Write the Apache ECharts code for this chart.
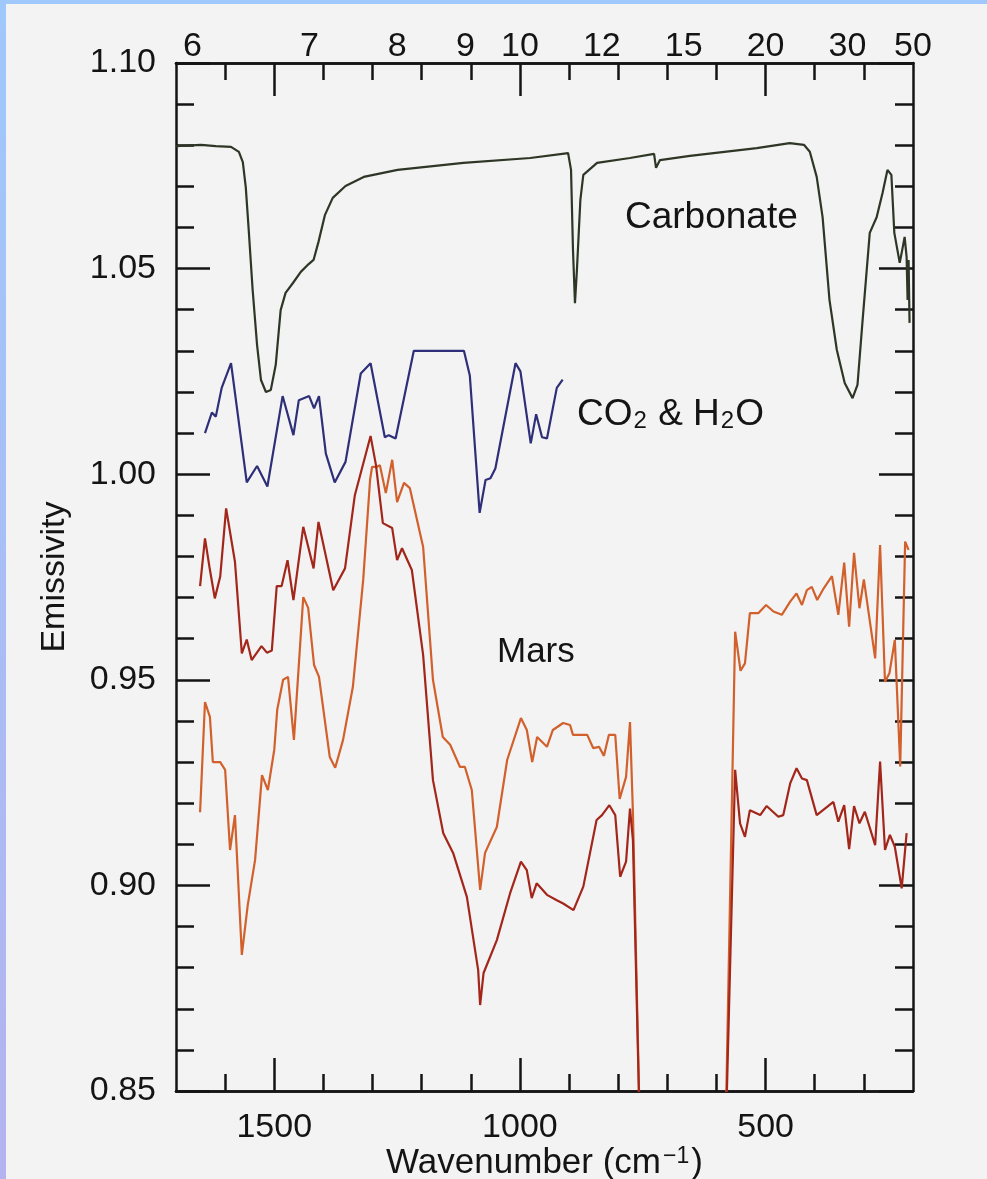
<!DOCTYPE html>
<html>
<head>
<meta charset="utf-8">
<script src="https://cdn.jsdelivr.net/npm/echarts@6/dist/echarts.min.js"></script>
<style>
  html, body { margin: 0; padding: 0; }
  #chart {
    width: 987px; height: 1179px;
    background:
      linear-gradient(#9fc8fc, #9fc8fc) 0 0 / 100% 4px no-repeat,
      linear-gradient(#9fc8fc, #b3b3ef) 0 0 / 6px 100% no-repeat,
      #f3f3f3;
  }
</style>
</head>
<body>
<div id="chart"></div>
<script>
// Emissivity spectra, [wavenumber (cm^-1), emissivity]
const carbonate = [
  [1700,1.0798],[1649,1.0801],[1619,1.0798],[1588,1.0796],[1572,1.0784],[1564,1.0759],[1558,1.0698],
  [1552,1.0594],[1544,1.0448],[1535,1.0314],[1527,1.0229],[1517,1.0200],[1507,1.0205],[1497,1.0266],
  [1487,1.0399],[1477,1.0441],[1462,1.0465],[1446,1.0492],[1430,1.0511],[1420,1.0521],[1410,1.0565],
  [1397,1.0630],[1381,1.0672],[1355,1.0701],[1318,1.0723],[1249,1.0740],[1115,1.0757],[979,1.0769],
  [902,1.0781],[896,1.0740],[892,1.0545],[888,1.0416],[884,1.0497],[877,1.0667],[871,1.0728],
  [843,1.0757],[776,1.0769],[727,1.0779],[723,1.0745],[715,1.0764],[654,1.0774],[518,1.0793],
  [451,1.0805],[422,1.0801],[410,1.0784],[396,1.0723],[384,1.0625],[370,1.0424],[355,1.0302],
  [339,1.0222],[323,1.0185],[313,1.0217],[303,1.0368],[288,1.0587],[274,1.0625],[262,1.0684],
  [252,1.0740],[244,1.0728],[238,1.0587],[227,1.0514],[222,1.0545],[217,1.0577],[213,1.0528],
  [211,1.0424],[209,1.0521],[207,1.0368]
];

const gasAbsorption = [
  [1641,1.010],[1627,1.015],[1619,1.014],[1607,1.021],[1588,1.027],[1556,0.998],[1535,1.002],
  [1514,0.997],[1483,1.019],[1461,1.0095],[1450,1.018],[1429,1.019],[1419,1.016],[1409,1.019],
  [1395,1.005],[1377,0.998],[1355,1.003],[1324,1.0245],[1304,1.027],[1275,1.009],[1267,1.0095],
  [1253,1.0087],[1216,1.030],[1114,1.030],[1102,1.024],[1082,0.9906],[1070,0.9986],[1060,0.999],
  [1050,1.0014],[1009,1.027],[999,1.025],[978,1.0075],[967,1.0146],[955,1.009],[945,1.0087],
  [925,1.021],[913,1.023]
];

const marsUpper = [
  [1651,0.9728],[1641,0.9844],[1632,0.9775],[1621,0.9698],[1610,0.9751],[1598,0.9917],[1580,0.9787],
  [1566,0.9564],[1556,0.9598],[1546,0.9548],[1526,0.9582],[1515,0.9566],[1505,0.9571],[1495,0.9728],
  [1485,0.9728],[1473,0.9791],[1461,0.9694],[1441,0.9872],[1420,0.9771],[1410,0.9884],[1380,0.9718],
  [1356,0.9771],[1336,0.9949],[1304,1.0093],[1293,1.0022],[1279,0.9881],[1260,0.9869],[1250,0.9791],
  [1240,0.9820],[1220,0.9767],[1197,0.9560],[1177,0.9256],[1156,0.9127],[1136,0.9079],[1108,0.8972],
  [1085,0.8794],[1081,0.8709],[1074,0.8787],[1047,0.8867],[1020,0.8981],[998,0.9058],[986,0.9037],
  [976,0.8969],[966,0.9005],[945,0.8977],[925,0.8964],[912,0.8956],[891,0.8940],[871,0.8997],
  [844,0.9159],[833,0.9171],[818,0.9195],[806,0.9171],[796,0.9021],[784,0.9058],[776,0.9187],
  [770,0.911],[754,0.83],[583,0.83],[562,0.9281],[552,0.9151],[542,0.9118],[532,0.9183],
  [511,0.9171],[498,0.9193],[474,0.9167],[464,0.9171],[450,0.9248],[437,0.9285],[426,0.926],
  [416,0.9256],[396,0.9171],[362,0.9203],[352,0.9155],[340,0.9195],[330,0.9088],[320,0.9193],
  [309,0.9151],[298,0.9179],[277,0.9098],[267,0.9301],[257,0.9086],[247,0.9123],[237,0.9094],
  [223,0.8993],[213,0.9127]
];

const marsLower = [
  [1651,0.9178],[1641,0.9446],[1631,0.9410],[1625,0.9300],[1610,0.9300],[1600,0.9281],[1590,0.9086],
  [1580,0.9171],[1566,0.8831],[1554,0.8952],[1539,0.9062],[1525,0.9268],[1513,0.9232],[1500,0.9330],
  [1494,0.9427],[1482,0.9500],[1472,0.9507],[1460,0.9354],[1441,0.9701],[1431,0.9675],[1419,0.9536],
  [1409,0.9507],[1387,0.9312],[1376,0.9286],[1360,0.9354],[1340,0.9483],[1319,0.9743],[1305,0.9986],
  [1301,1.0018],[1291,1.0018],[1285,1.0022],[1273,0.9954],[1260,1.0035],[1250,0.9932],[1236,0.9979],
  [1224,0.9966],[1197,0.9823],[1177,0.9500],[1157,0.9361],[1142,0.9342],[1122,0.9288],[1112,0.9288],
  [1098,0.9232],[1081,0.8989],[1071,0.9079],[1047,0.9142],[1026,0.9305],[998,0.9407],[986,0.9378],
  [975,0.9300],[965,0.9361],[945,0.9337],[933,0.9378],[912,0.9395],[898,0.9390],[892,0.9366],
  [863,0.9366],[851,0.9334],[839,0.9337],[829,0.9315],[819,0.9366],[806,0.9366],[797,0.9210],
  [784,0.9264],[776,0.9397],[770,0.9176],[754,0.83],[583,0.83],[562,0.9617],[551,0.9522],
  [542,0.9540],[532,0.9662],[515,0.9662],[499,0.9682],[484,0.9666],[467,0.9658],[450,0.9690],
  [437,0.9710],[426,0.9682],[416,0.9718],[406,0.9726],[395,0.9694],[382,0.9722],[365,0.9752],
  [352,0.9658],[340,0.9785],[330,0.9629],[320,0.9809],[309,0.9674],[300,0.9744],[277,0.9552],
  [267,0.9828],[257,0.9495],[248,0.9516],[237,0.9597],[226,0.9289],[216,0.9836],[209,0.9816]
];

// Axis ticks and labels
const wnLabels = [500, 1000, 1500];
const wnMinorTicks = [300, 400, 600, 700, 800, 900, 1100, 1200, 1300, 1400, 1600];
const micronLabels = [6, 7, 8, 9, 10, 12, 15, 20, 30, 50];

const FONT = '"Liberation Sans", Arial, sans-serif';
const INK = '#141414';
const axisLineStyle = { color: INK, width: 2.5 };

function wnAxis(position, ticks, tickLen, extra) {
  return Object.assign({
    type: 'value', min: 200, max: 1700, inverse: true, position: position,
    axisLine: { show: true, onZero: false, lineStyle: axisLineStyle },
    axisTick: { show: true, inside: true, length: tickLen, customValues: ticks, lineStyle: axisLineStyle },
    axisLabel: { show: false },
    splitLine: { show: false }
  }, extra || {});
}

function emAxis(position, extra) {
  return Object.assign({
    type: 'value', min: 0.85, max: 1.10, interval: 0.05, position: position,
    axisLine: { show: true, onZero: false, lineStyle: axisLineStyle },
    axisTick: { show: true, inside: true, length: 34, lineStyle: axisLineStyle },
    minorTick: { show: true, splitNumber: 5, length: 18, lineStyle: axisLineStyle },
    axisLabel: { show: false },
    splitLine: { show: false }, minorSplitLine: { show: false }
  }, extra || {});
}

const lineSeries = (name, data, color) => ({
  type: 'line', name: name, data: data, xAxisIndex: 0, yAxisIndex: 0,
  showSymbol: false, symbol: 'none', smooth: false, clip: true,
  lineStyle: { color: color, width: 2.2 }, emphasis: { disabled: true }
});

const chart = echarts.init(document.getElementById('chart'), null, { renderer: 'canvas' });
chart.setOption({
  animation: false,
  backgroundColor: 'transparent',
  textStyle: { fontFamily: FONT, color: INK },
  grid: { left: 176, right: 74, top: 63, bottom: 88, containLabel: false, outerBoundsMode: 'none' },
  xAxis: [
    wnAxis('bottom', wnLabels, 33, {
      axisLabel: {
        show: true, customValues: wnLabels, margin: 20, fontSize: 34, color: INK, fontFamily: FONT,
        formatter: v => String(Math.round(v))
      },
      name: 'Wavenumber (cm{sup|\u22121})',
      nameLocation: 'middle', nameGap: 54, nameMoveOverlap: false,
      nameTextStyle: {
        fontSize: 35, color: INK, fontFamily: FONT,
        rich: { sup: { fontSize: 23, verticalAlign: 'top', padding: [0, 2, 14, 2], color: INK, fontFamily: FONT } }
      }
    }),
    wnAxis('bottom', wnMinorTicks, 17),
    wnAxis('top', wnLabels, 33, {
      axisLabel: {
        show: true, customValues: micronLabels.map(m => 1e4 / m), margin: -1,
        fontSize: 34, color: INK, fontFamily: FONT,
        formatter: v => String(Math.round(1e4 / v))
      }
    }),
    wnAxis('top', wnMinorTicks, 17)
  ],
  yAxis: [
    emAxis('left', {
      axisLabel: { show: true, margin: 20, fontSize: 34, color: INK, fontFamily: FONT, formatter: v => v.toFixed(2) },
      name: 'Emissivity', nameLocation: 'middle', nameGap: 104, nameMoveOverlap: false,
      nameTextStyle: { fontSize: 34, color: INK, fontFamily: FONT }
    }),
    emAxis('right')
  ],
  series: [
    lineSeries('Carbonate', carbonate, '#2e3626'),
    lineSeries('CO2 & H2O', gasAbsorption, '#2e2f78'),
    lineSeries('Mars (lower)', marsLower, '#d2602c'),
    lineSeries('Mars (upper)', marsUpper, '#a3261b')
  ],
  graphic: [
    { type: 'text', left: 625, top: 199, silent: true,
      style: { text: 'Carbonate', font: '37px ' + FONT, fill: INK } },
    { type: 'text', left: 577, top: 396, silent: true,
      style: {
        text: 'CO{sub|2} & H{sub|2}O', font: '37px ' + FONT, fill: INK,
        rich: { sub: { fontSize: 24, verticalAlign: 'bottom', padding: [14, 1, 0, 1], fill: INK, fontFamily: FONT } }
      } },
    { type: 'text', left: 497, top: 635, silent: true,
      style: { text: 'Mars', font: '35px ' + FONT, fill: INK } }
  ]
});
</script>
</body>
</html>
